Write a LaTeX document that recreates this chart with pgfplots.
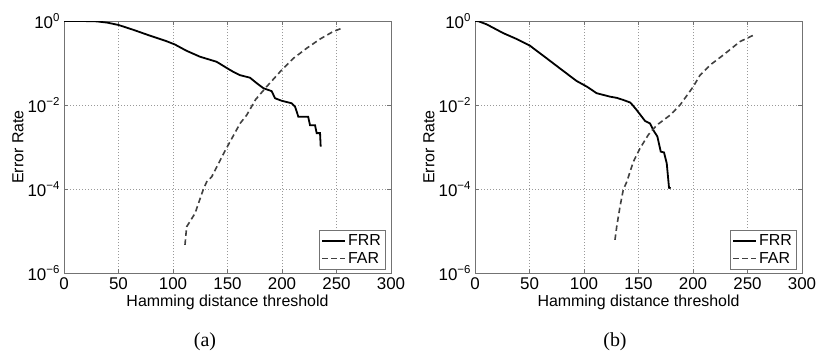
\documentclass[border=0pt]{standalone}
\usepackage{fontspec}
\setmainfont{Liberation Sans}
\newfontfamily\seriffont{Liberation Serif}
\usepackage{pgfplots}
\usepackage{pgfplotstable}
\pgfplotsset{compat=1.18}

\pgfplotstableread{
x y
0 1.0
10 1.0
20 0.995
30 0.98
40 0.912
50 0.804
63.6 0.617
78.9 0.447
94 0.331
101.8 0.275
112.5 0.195
124.8 0.141
140 0.107
150.7 0.0724
155.3 0.0617
161.5 0.0513
170.6 0.0447
176.8 0.0331
182.9 0.0251
190.5 0.0214
193.6 0.0145
199.7 0.0126
208.9 0.0110
212 0.00912
215 0.00525
224 0.00525
225.7 0.00331
230.3 0.00331
231.8 0.00214
234.9 0.00214
235.5 0.00102
}\frrA

\pgfplotstableread{
x y
111 4.68e-6
112.5 1.26e-5
120.2 2.63e-5
127.8 9.77e-5
130.9 1.48e-4
135.5 1.95e-4
147.5 7.9e-4
161.5 3.63e-3
167.6 5.75e-3
175.8 0.0135
186 0.0275
198.2 0.0617
210.4 0.129
222.6 0.224
234.9 0.372
247 0.562
256.2 0.692
}\farA

\pgfplotstableread{
x y
0 1.0
3 0.99
10.7 0.832
26 0.513
38.3 0.372
50.5 0.257
65.8 0.129
81 0.0646
93.3 0.0372
102.5 0.0275
111.6 0.0191
123.9 0.0158
130 0.0148
136 0.0132
142.2 0.0115
143.8 0.0105
148.3 0.00759
156 0.00417
160.6 0.00363
163.6 0.00251
167.3 0.00178
170.4 7.76e-4
173.4 7.41e-4
175.9 4.07e-4
178 1.07e-4
179.5 1.05e-4
}\frrB

\pgfplotstableread{
x y
128.4 6.17e-6
130 1.26e-5
133 3.8e-5
136 9.55e-5
139.2 1.48e-4
145.3 4.47e-4
151.4 9.33e-4
159 1.95e-3
166.7 3.31e-3
179 5.75e-3
188.1 0.01
200.3 0.0275
206.4 0.0513
215.6 0.0891
227.8 0.155
243.1 0.324
256.9 0.479
}\farB

\newcommand\bigfont{\fontsize{16}{18}\selectfont}
\newcommand\tickfont{\fontsize{17}{19}\selectfont}
\newcommand\sups[1]{\raisebox{0.42em}{\fontsize{11.5}{12}\selectfont #1}}
\tikzset{
  frr/.style={black, line width=1.8bp},
  far/.style={black!75, line width=1.6bp, dash pattern=on 5.5bp off 3.5bp},
}
\pgfplotsset{
  legend image code/.code={\draw[#1] (0bp,0bp) -- (23bp,0bp);},
  every axis x label/.style={at={(axis description cs:0.5,-0.115)}, anchor=center, font=\bigfont},
  every axis y label/.style={at={(axis description cs:-0.1407,0.5)}, rotate=90, anchor=center, font=\bigfont},
  myax/.style={
    scale only axis,
    width=327bp, height=252bp,
    xmin=0, xmax=300,
    xtick={0,50,100,150,200,250,300},
    ymin=1e-6, ymax=1,
    ytick={1e-6,1e-4,1e-2,1},
    yticklabels={10\sups{−6},10\sups{−4},10\sups{−2},10\sups{0}},
    axis line style={black!55},
    tick style={black!55},
    tick align=inside,
    major tick length=4bp,
    grid=major,
    grid style={black!40, dash pattern=on 1bp off 2bp, line width=0.4bp},
    xlabel={Hamming distance threshold},
    ylabel={Error Rate},
    xticklabel style={yshift=-1.5bp},
    yticklabel style={xshift=-1bp},
    legend style={at={(1,0)}, anchor=south east, xshift=-6bp, yshift=4bp,
      draw=black!55, row sep=1.5bp, inner sep=2bp, font=\bigfont},
    legend cell align=left,
  },
}

\begin{document}
\begin{tikzpicture}[x=1bp,y=1bp]
\path[use as bounding box] (0,0) rectangle (818,351);
\begin{axis}[myax, ymode=log, at={(64bp,78bp)}, anchor=south west,
  /pgf/number format/assume math mode=true,
  tick label style={font=\tickfont}]
\addplot[frr] table[x=x,y=y] {\frrA};
\addlegendentry{FRR}
\addplot[far] table[x=x,y=y] {\farA};
\addlegendentry{FAR}
\end{axis}
\begin{axis}[myax, ymode=log, at={(475bp,78bp)}, anchor=south west,
  /pgf/number format/assume math mode=true,
  tick label style={font=\tickfont}]
\addplot[frr] table[x=x,y=y] {\frrB};
\addlegendentry{FRR}
\addplot[far] table[x=x,y=y] {\farB};
\addlegendentry{FAR}
\end{axis}
\node[font=\seriffont\fontsize{20}{22}\selectfont] at (205,9) {(a)};
\node[font=\seriffont\fontsize{20}{22}\selectfont] at (615,9) {(b)};
\end{tikzpicture}
\end{document}
